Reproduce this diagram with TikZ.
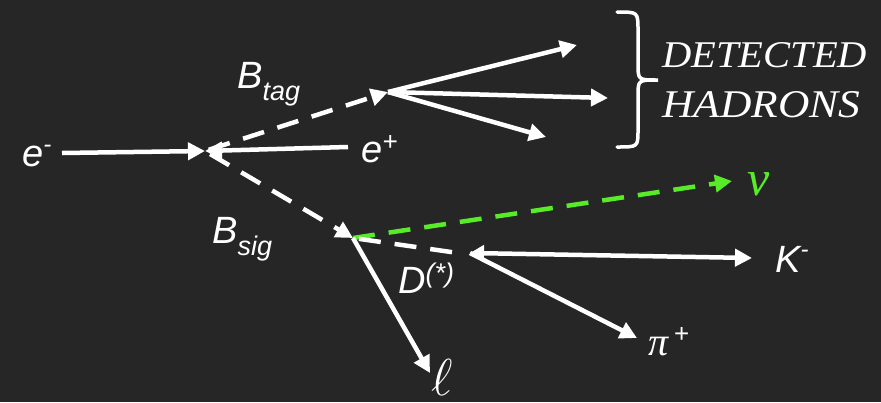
\RequirePackage{fix-cm}
\documentclass[tikz,border=0pt]{standalone}
\usepackage{fontspec}
\setmainfont{Liberation Sans}
\newfontfamily\hadfont{Liberation Serif}
\usetikzlibrary{arrows.meta}
\definecolor{bg}{RGB}{38,38,38}
\definecolor{nugreen}{RGB}{88,235,40}
\tikzset{
  lab/.style={inner sep=0pt, anchor=base west, text=white, font=\fontsize{38}{40}\selectfont\itshape},
  prt/.style={draw=white, line width=4.5pt, -{Triangle[length=17pt,width=17pt]}},
  dsh/.style={dash pattern=on 22pt off 14pt},
}
\newcommand{\sub}[2][-12pt]{\raisebox{#1}{\fontsize{27}{28}\selectfont #2}}
\begin{document}
\begin{tikzpicture}[x=1pt,y=-1pt]
\fill[bg] (0,0) rectangle (881,402);
\useasboundingbox (0,0) rectangle (881,402);
% vertices
\coordinate (V) at (205,151);
\coordinate (T) at (388,92);
\coordinate (S) at (353,238);
\coordinate (D) at (470,253);
\coordinate (em0) at (62,153);
\coordinate (ep0) at (348,147);
\coordinate (h1) at (577,45);
\coordinate (h2) at (608,98);
\coordinate (h3) at (546,137);
\coordinate (nu1) at (732,181);
\coordinate (Dend) at (458,253);
\coordinate (K1) at (752,258);
\coordinate (pi1) at (637,338);
\coordinate (l1) at (430,373);
% labels
\node[lab] (em) at (22,166) {e\raisebox{14pt}{\fontsize{24}{24}\selectfont -}};
\node[lab] (ep) at (361,162) {e\raisebox{12pt}{\fontsize{26}{26}\selectfont +}};
\node[lab] (btag) at (237,88) {B\sub{tag}};
\node[lab] (bsig) at (212,243) {B\sub{sig}};
\node[lab] (dst) at (398,293) {D\sub[11pt]{(*)}};
\node[lab] (kmin) at (775,272) {K\raisebox{15pt}{\fontsize{24}{24}\selectfont -}};
\node[lab] (pip) at (648,355) {{\hadfont\fontsize{40}{40}\selectfont\itshape π}\hspace{6pt}\raisebox{13pt}{\fontsize{26}{26}\selectfont\upshape +}};
\node[lab, font=\fontsize{52}{52}\selectfont] (ell) at (431,395) {$\ell$};
\node[lab, text=nugreen] (nu) at (747,195) {\hadfont\fontsize{50}{50}\selectfont\itshape ν};
\node[inner sep=0pt, anchor=south west, text=white] (det) at (662,68) {\resizebox{205pt}{25pt}{\hadfont\itshape DETECTED}};
\node[inner sep=0pt, anchor=south west, text=white] (had) at (662,118) {\resizebox{198pt}{26pt}{\hadfont\itshape HADRONS}};
% brace
\draw[white, line width=3.5pt, line cap=round] (617,12) .. controls (638,12) .. (638,30) -- (638,64) .. controls (638,80) .. (658,80) .. controls (638,80) .. (638,96) -- (638,130) .. controls (638,147) .. (617,147);
% connectors
\draw[prt] (em0) -- (V);
\draw[prt] (ep0) -- (V);
\draw[prt, dsh, dash phase=-4pt] (V) -- (T);
\draw[prt, dsh, dash phase=-6pt] (V) -- (S);
\draw[prt] (T) -- (h1);
\draw[prt] (T) -- (h2);
\draw[prt] (T) -- (h3);
\draw[prt, draw=nugreen, dsh] (S) -- (nu1);
\draw[white, line width=4.5pt, dsh, dash phase=-6pt] (S) -- (Dend);
\draw[prt, {Triangle[length=14pt,width=16pt]}-{Triangle[length=17pt,width=17pt]}] (D) -- (K1);
\draw[prt] (D) -- (pi1);
\draw[prt] (S) -- (l1);
\end{tikzpicture}
\end{document}
